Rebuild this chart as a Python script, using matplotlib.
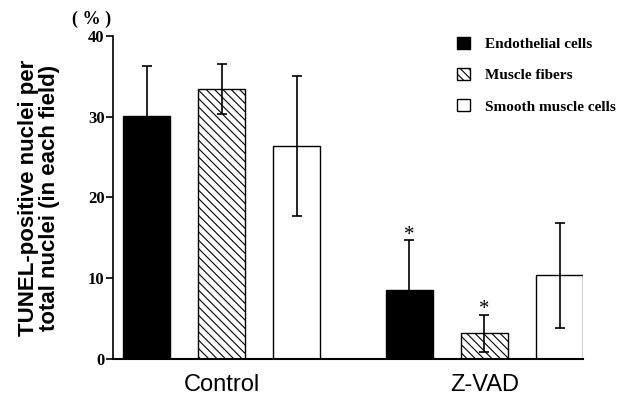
import matplotlib.pyplot as plt
import numpy as np

groups = ['Control', 'Z-VAD']
cell_types = ['Endothelial cells', 'Muscle fibers', 'Smooth muscle cells']
# mean and SD, one list per cell type, order: Control, Z-VAD
endothelial = [30.1, 8.6]
endothelial_err = [6.2, 6.1]
muscle = [33.4, 3.2]
muscle_err = [3.1, 2.3]
smooth = [26.4, 10.4]
smooth_err = [8.7, 6.5]
significant = [[False, True], [False, True], [False, False]]

serif = 'Liberation Serif'
sans = 'Liberation Sans'

fig = plt.figure(figsize=(6.27, 3.96), dpi=100)
ax = fig.add_axes([113 / 627, 37 / 396, 470 / 627, 323 / 396])

centers = np.array([0, 3.5])
width = 0.62
styles = [dict(color='black', edgecolor='black'),
          dict(color='white', edgecolor='black', hatch='\\\\\\\\'),
          dict(color='white', edgecolor='black')]
values = [endothelial, muscle, smooth]
errors = [endothelial_err, muscle_err, smooth_err]

plt.rcParams['hatch.linewidth'] = 0.8
for i, (vals, errs, st) in enumerate(zip(values, errors, styles)):
    x = centers + (i - 1)
    ax.bar(x, vals, width, linewidth=1.0, label=cell_types[i], zorder=2, **st)
    ax.errorbar(x, vals, yerr=errs, fmt='none', ecolor='black', elinewidth=1.2,
                capsize=3.5, capthick=1.2, zorder=3)
    for j in range(len(x)):
        if significant[i][j]:
            ax.text(x[j], vals[j] + errs[j] + 0.05, '*', ha='center', va='baseline',
                    fontsize=15, family=serif)

ax.set_ylim(0, 40)
ax.set_xlim(-1.447, 4.813)
ax.set_yticks([0, 10, 20, 30, 40])
ax.set_yticklabels(['0', '10', '20', '30', '40'], family=serif, fontweight='bold', fontsize=12)
ax.tick_params(axis='y', direction='out', length=5, width=1.2, pad=1)
ax.set_xticks(centers)
ax.set_xticklabels(groups, family=sans, fontsize=17)
ax.tick_params(axis='x', length=0, pad=11)
ax.spines['top'].set_visible(False)
ax.spines['right'].set_visible(False)
ax.spines['left'].set_linewidth(1.2)
ax.spines['bottom'].set_linewidth(1.5)

ax.set_ylabel('TUNEL-positive nuclei per\ntotal nuclei (in each field)',
              family=sans, fontweight='bold', fontsize=16, labelpad=20, linespacing=1.0)
fig.text(92 / 627, 1 - 19 / 396, '( % )', ha='center', va='center',
         family=serif, fontweight='bold', fontsize=13)

leg = ax.legend(loc='upper right', bbox_to_anchor=(1.10, 1.04), frameon=False,
                prop={'family': serif, 'weight': 'bold', 'size': 11},
                handlelength=0.85, handleheight=0.85, labelspacing=1.1, handletextpad=1.0)

fig.savefig('out.png', dpi=100)
